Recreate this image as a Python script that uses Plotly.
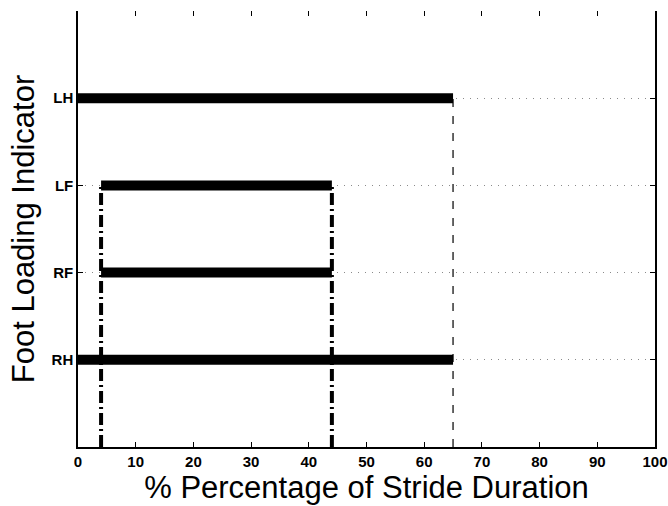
import plotly.graph_objects as go

# Stance phases per foot (% of stride)
feet = ["RH", "RF", "LF", "LH"]
foot_level = [1, 2, 3, 4]
stance_start = [0, 4, 4, 0]
stance_end = [65, 44, 44, 65]

# Event markers: hind lift-off and fore touch-down / lift-off
hind_liftoff = 65
fore_events = [4, 44]

x_ticks = [0, 10, 20, 30, 40, 50, 60, 70, 80, 90, 100]

FONT = "Liberation Sans, Arial, sans-serif"

fig = go.Figure()

# Dashed marker at hind lift-off, from the LH level down to the axis
fig.add_trace(go.Scatter(
    x=[hind_liftoff, hind_liftoff], y=[0, max(foot_level)],
    mode="lines", line=dict(color="#333333", width=1.5, dash="8px,9px"),
    hoverinfo="skip", showlegend=False))

# Dash-dot markers at fore-foot events, from the LF level down to the axis
for xe in fore_events:
    fig.add_trace(go.Scatter(
        x=[xe, xe], y=[0, foot_level[feet.index("LF")]],
        mode="lines", line=dict(color="black", width=4, dash="12px,4px,2px,4px"),
        hoverinfo="skip", showlegend=False))

# Stance bars
for lvl, s, e in zip(foot_level, stance_start, stance_end):
    fig.add_trace(go.Scatter(
        x=[s, e], y=[lvl, lvl], mode="lines",
        line=dict(color="black", width=10),
        showlegend=False))

# Invisible trace to carry the top tick axis
fig.add_trace(go.Scatter(x=[0, 100], y=[0, 0], xaxis="x2", mode="lines",
                         line=dict(width=0), hoverinfo="skip", showlegend=False))

fig.update_layout(
    width=668, height=506,
    margin=dict(l=78, r=13, t=11, b=59, autoexpand=False),
    paper_bgcolor="white", plot_bgcolor="white",
    font=dict(family=FONT, color="black"),
    xaxis=dict(
        range=[0, 100], tickvals=x_ticks, ticks="inside", ticklen=5,
        tickcolor="black", tickwidth=1, automargin=False,
        showline=True, linecolor="black", linewidth=1.5,
        showgrid=False, zeroline=False,
        tickfont=dict(family=FONT, size=15, weight="bold", color="black"),
        title=dict(text="% Percentage of Stride Duration",
                   font=dict(family=FONT, size=31, color="black"), standoff=2),
    ),
    xaxis2=dict(
        overlaying="x", side="top", range=[0, 100], tickvals=x_ticks[1:-1],
        ticks="inside", ticklen=5, tickcolor="black", showticklabels=False,
        showline=False, showgrid=False, zeroline=False, automargin=False,
    ),
    yaxis=dict(
        range=[0, 5], tickvals=foot_level, ticktext=feet,
        ticks="inside", ticklen=5, tickcolor="black", automargin=False,
        showline=True, linecolor="black", linewidth=1.5, mirror="ticks",
        showgrid=True, gridcolor="#8a8a8a", gridwidth=1, griddash="1px,6px",
        zeroline=False,
        tickfont=dict(family=FONT, size=15, weight="bold", color="black"),
        title=dict(text="Foot Loading Indicator",
                   font=dict(family=FONT, size=31, color="black"), standoff=8),
    ),
)

fig.write_html("out.html")
